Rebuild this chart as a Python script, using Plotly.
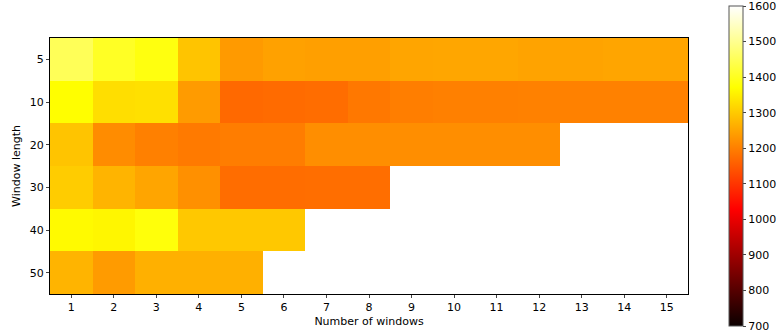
import plotly.graph_objects as go

num_windows = list(range(1, 16))
window_lengths = ["5", "10", "20", "30", "40", "50"]

row_5 = [1450, 1405, 1385, 1292, 1235, 1245, 1243, 1243, 1250, 1252, 1252, 1248, 1248, 1250, 1250]
row_10 = [1370, 1327, 1330, 1237, 1170, 1172, 1175, 1190, 1198, 1200, 1200, 1202, 1202, 1202, 1202]
row_20 = [1292, 1217, 1200, 1192, 1197, 1197, 1219, 1219, 1219, 1220, 1220, 1220, None, None, None]
row_30 = [1303, 1271, 1250, 1222, 1175, 1175, 1177, 1177, None, None, None, None, None, None, None]
row_40 = [1365, 1360, 1380, 1297, 1297, 1297, None, None, None, None, None, None, None, None, None]
row_50 = [1271, 1237, 1265, 1265, 1265, None, None, None, None, None, None, None, None, None, None]

cbar_ticks = [700, 800, 900, 1000, 1100, 1200, 1300, 1400, 1500, 1600]

z = [row_5, row_10, row_20, row_30, row_40, row_50]

hot = [[0.0, "rgb(11,0,0)"], [0.365079, "rgb(255,0,0)"],
       [0.746032, "rgb(255,255,0)"], [1.0, "rgb(255,255,255)"]]

fig = go.Figure(go.Heatmap(
    x=num_windows, y=window_lengths, z=z,
    zmin=700, zmax=1600, colorscale=hot, hoverongaps=False,
    colorbar=dict(
        x=1.064, xanchor="left", xref="paper", thickness=14, xpad=0, ypad=0,
        lenmode="pixels", len=320, y=0.5, yanchor="middle",
        tickvals=cbar_ticks, ticks="outside", ticklen=3,
        ticklabeloverflow="allow",
        outlinewidth=1, outlinecolor="#555",
        tickfont=dict(family="DejaVu Sans", size=11, color="black"),
    ),
))

fig.update_layout(
    width=781, height=335,
    margin=dict(l=50, r=93, t=38, b=41, autoexpand=False),
    paper_bgcolor="white", plot_bgcolor="white",
    font=dict(family="DejaVu Sans", size=11, color="black"),
)
fig.update_xaxes(
    title=dict(text="Number of windows", standoff=4, font=dict(size=11)),
    tickvals=num_windows, ticks="outside", ticklen=3, showline=True, mirror=True,
    linecolor="black", linewidth=1, showgrid=False, zeroline=False,
    range=[0.5, 15.5], automargin=False,
)
fig.update_yaxes(
    title=dict(text="Window length", standoff=6, font=dict(size=11)),
    ticks="outside", ticklen=3, showline=True, mirror=True, autorange="reversed",
    linecolor="black", linewidth=1, showgrid=False, zeroline=False, automargin=False,
)

fig.write_html("out.html", config={"displayModeBar": False},
               post_script="document.body.style.margin='0';document.body.style.overflow='hidden';")
